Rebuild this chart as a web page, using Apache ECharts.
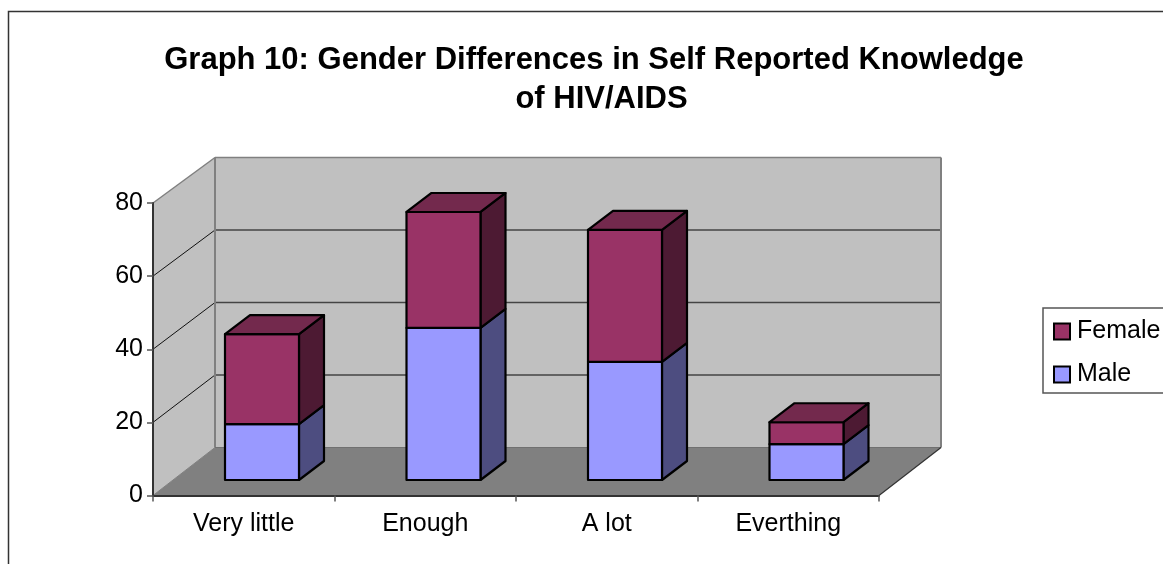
<!DOCTYPE html>
<html>
<head>
<meta charset="utf-8">
<style>html,body{margin:0;padding:0;background:#fff}#chart{width:1163px;height:564px}</style>
<script src="https://cdn.jsdelivr.net/npm/echarts@6/dist/echarts.min.js"></script>
</head>
<body>
<div id="chart"></div>
<script>
const categories = ['Very little', 'Enough', 'A lot', 'Everthing'];
const maleValues = [15.3, 41.6, 32.3, 9.8];
const femaleValues = [24.6, 31.7, 36.1, 6.0];
const valueTicks = [0, 20, 40, 60, 80];
const titleLines = ['Graph 10: Gender Differences in Self Reported Knowledge', 'of HIV/AIDS'];

const FONT = '"Liberation Sans", Arial, sans-serif';
const MALE = { front: '#9999ff', side: '#4d4d80', top: '#7a7ac0' };
const FEMALE = { front: '#993366', side: '#4d1a33', top: '#73294d' };
const BAR_WIDTH = 74;
const BAR_SHIFT = { x: 18.25, y: 15.5 };
const BAR_DEPTH = { x: 25, y: 19 };

// Point on the back wall that sits behind a point of the front plane.
function behind(pt, v) {
  return [pt[0] + 62, pt[1] - 48 + 2.5 * v / 80];
}

function poly(points, fill, stroke, width) {
  return {
    type: 'polygon',
    shape: { points },
    style: { fill: fill, stroke: stroke, lineWidth: width || 0, lineJoin: 'round' }
  };
}

function line(a, b, stroke, width) {
  return {
    type: 'line',
    shape: { x1: a[0], y1: a[1], x2: b[0], y2: b[1] },
    style: { stroke: stroke, lineWidth: width }
  };
}

// Back wall, side wall, floor and their gridlines.
function renderRoom(params, api) {
  const cs = params.coordSys;
  const yOf = v => api.coord([0, v])[1];
  const left = cs.x, right = cs.x + cs.width;
  const top = yOf(80), base = yOf(0);
  const fl = [left, base], fr = [right, base], tl = [left, top];
  const bl = behind(fl, 0), br = behind(fr, 0), btl = behind(tl, 80), btr = behind([right, top], 80);
  const children = [
    poly([bl, br, btr, btl], '#c0c0c0', null),
    poly([fl, bl, btl, tl], '#c0c0c0', null),
    poly([fl, fr, br, bl], '#808080', null)
  ];
  valueTicks.slice(1, -1).forEach(v => {
    const p = [left, yOf(v)];
    const q = behind(p, v);
    children.push(line(p, q, '#111', 1));
    children.push(line(q, [q[0] + cs.width, q[1]], '#444', 1.5));
  });
  children.push(line(tl, btl, '#808080', 1.5));
  children.push(line(btl, btr, '#808080', 1.5));
  children.push(line(btl, bl, '#808080', 2));
  children.push(line(btr, br, '#808080', 2));
  children.push(line(bl, br, '#707070', 1));
  children.push(line(fl, bl, '#808080', 1));
  children.push(line(fr, br, '#333', 1.2));
  return { type: 'group', children };
}

// One stacked block: front face, right side and, for the upper block, the lid.
function blockRenderer(colors, withTop) {
  return function (params, api) {
    const idx = api.value(0);
    const low = api.coord([idx, api.value(1)]);
    const high = api.coord([idx, api.value(2)]);
    const x0 = low[0] + BAR_SHIFT.x - BAR_WIDTH / 2;
    const x1 = x0 + BAR_WIDTH;
    const y0 = low[1] - BAR_SHIFT.y;
    const y1 = high[1] - BAR_SHIFT.y;
    const dx = BAR_DEPTH.x, dy = BAR_DEPTH.y;
    const children = [
      poly([[x1, y0], [x1 + dx, y0 - dy], [x1 + dx, y1 - dy], [x1, y1]], colors.side, '#000', 2.2),
      poly([[x0, y0], [x1, y0], [x1, y1], [x0, y1]], colors.front, '#000', 2.2)
    ];
    if (withTop) {
      children.push(poly([[x0, y1], [x1, y1], [x1 + dx, y1 - dy], [x0 + dx, y1 - dy]], colors.top, '#000', 2.2));
    }
    return { type: 'group', children };
  };
}

const maleData = categories.map((c, i) => [i, 0, maleValues[i]]);
const femaleData = categories.map((c, i) => [i, maleValues[i], maleValues[i] + femaleValues[i]]);

const chart = echarts.init(document.getElementById('chart'), null, { renderer: 'canvas' });
chart.setOption({
  animation: false,
  backgroundColor: '#fff',
  textStyle: { fontFamily: FONT },
  title: [
    { text: titleLines[0], left: 589, top: 40, textAlign: 'center',
      textStyle: { fontFamily: FONT, fontSize: 31, fontWeight: 'bold', color: '#000' } },
    { text: titleLines[1], left: 596.5, top: 79, textAlign: 'center',
      textStyle: { fontFamily: FONT, fontSize: 31, fontWeight: 'bold', color: '#000' } }
  ],
  graphic: [{
    type: 'rect', z: -10, silent: true,
    shape: { x: 8.5, y: 11.5, width: 1300, height: 800 },
    style: { fill: 'none', stroke: '#333', lineWidth: 1.5 }
  }],
  legend: {
    orient: 'vertical', left: 1043, top: 308,
    data: ['Female', 'Male'],
    icon: 'rect',
    padding: [11, 12, 6, 10],
    itemGap: 18, itemWidth: 16, itemHeight: 16,
    backgroundColor: '#fff', borderColor: '#555', borderWidth: 1.5,
    selectedMode: false,
    textStyle: { fontFamily: FONT, fontSize: 25, color: '#000', padding: [0, 0, 10, 2] }
  },
  grid: { left: 153, top: 203, width: 726, height: 292.5, containLabel: false },
  xAxis: {
    type: 'category', data: categories, z: 5,
    axisLine: { lineStyle: { color: '#333', width: 2 } },
    axisTick: { show: true, alignWithLabel: false, length: 6, lineStyle: { color: '#555', width: 1.5 } },
    axisLabel: { fontFamily: FONT, fontSize: 25, color: '#000', margin: 16 }
  },
  yAxis: {
    type: 'value', min: 0, max: 80, interval: 20, z: 5,
    axisLine: { show: true, lineStyle: { color: '#333', width: 2 } },
    axisTick: { show: true, length: 6, lineStyle: { color: '#555', width: 1.5 } },
    splitLine: { show: false },
    axisLabel: { fontFamily: FONT, fontSize: 25, color: '#000', margin: 10, padding: [5, 0, 0, 0] }
  },
  series: [
    { type: 'custom', name: 'Room', z: 1, silent: true, data: [[0, 0]], renderItem: renderRoom },
    { type: 'custom', name: 'Male', z: 6, data: maleData, encode: { x: 0, y: 2 },
      itemStyle: { color: MALE.front, borderColor: '#000', borderWidth: 2 },
      renderItem: blockRenderer(MALE, false) },
    { type: 'custom', name: 'Female', z: 7, data: femaleData, encode: { x: 0, y: 2 },
      itemStyle: { color: FEMALE.front, borderColor: '#000', borderWidth: 2 },
      renderItem: blockRenderer(FEMALE, true) }
  ]
});
</script>
</body>
</html>
